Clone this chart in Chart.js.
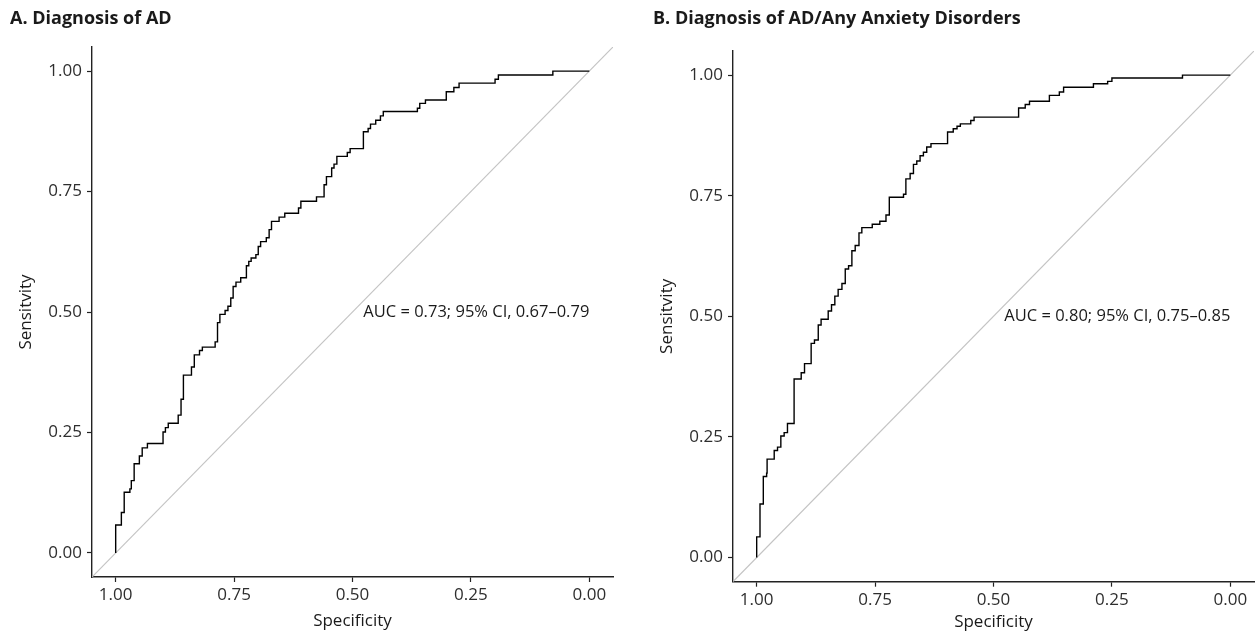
<!DOCTYPE html>
<html>
<head>
<meta charset="utf-8">
<script src="https://cdn.jsdelivr.net/npm/chart.js@4.4.0/dist/chart.umd.min.js"></script>
<style>
  html, body { margin: 0; padding: 0; background: #fff; }
  #wrapA { position: absolute; left: 0; top: 0; }
  #wrapB { position: absolute; left: 643px; top: 0; }
</style>
</head>
<body>
<div id="wrapA"><canvas id="chartA" width="625" height="634"></canvas></div>
<div id="wrapB"><canvas id="chartB" width="612" height="634"></canvas></div>
<script>
const tick_values = [1, 0.75, 0.5, 0.25, 0];
const tick_labels = ['1.00', '0.75', '0.50', '0.25', '0.00'];

// panel A: ROC steps (specificity, sensitivity)
const spec_a = [1.000, 1.000, 0.988, 0.982, 0.970, 0.967, 0.961, 0.950, 0.944, 0.933, 0.900, 0.895, 0.889, 0.868, 0.862,
  0.857, 0.840, 0.834, 0.823, 0.817, 0.790, 0.785, 0.780, 0.769, 0.763, 0.757, 0.752, 0.746, 0.736, 0.724, 0.719,
  0.714, 0.704, 0.699, 0.694, 0.682, 0.676, 0.671, 0.655, 0.643, 0.614, 0.609, 0.576, 0.560, 0.555, 0.544, 0.539,
  0.533, 0.511, 0.505, 0.477, 0.467, 0.462, 0.451, 0.441, 0.435, 0.363, 0.358, 0.346, 0.302, 0.286, 0.275, 0.199,
  0.192, 0.077, 0.000];
const sens_a = [0.000, 0.058, 0.084, 0.126, 0.133, 0.150, 0.185, 0.201, 0.218, 0.227, 0.251, 0.260, 0.269, 0.286, 0.319,
  0.369, 0.386, 0.411, 0.420, 0.427, 0.438, 0.478, 0.495, 0.503, 0.512, 0.529, 0.553, 0.562, 0.571, 0.596, 0.605,
  0.612, 0.619, 0.636, 0.646, 0.654, 0.671, 0.688, 0.697, 0.705, 0.716, 0.730, 0.739, 0.764, 0.781, 0.799, 0.807,
  0.823, 0.831, 0.839, 0.874, 0.881, 0.890, 0.898, 0.907, 0.916, 0.923, 0.933, 0.940, 0.957, 0.966, 0.975, 0.983,
  0.992, 1.000, 1.000];

// panel B
const spec_b = [1.000, 1.000, 0.993, 0.986, 0.979, 0.978, 0.963, 0.956, 0.949, 0.942, 0.935, 0.921, 0.906, 0.899, 0.885,
  0.878, 0.870, 0.864, 0.849, 0.842, 0.835, 0.828, 0.820, 0.813, 0.806, 0.799, 0.792, 0.784, 0.778, 0.756, 0.740,
  0.727, 0.720, 0.690, 0.685, 0.676, 0.669, 0.662, 0.655, 0.648, 0.641, 0.632, 0.597, 0.585, 0.577, 0.570, 0.548,
  0.541, 0.447, 0.433, 0.424, 0.382, 0.361, 0.352, 0.289, 0.259, 0.250, 0.101, 0.000];
const sens_b = [0.000, 0.043, 0.111, 0.168, 0.175, 0.204, 0.222, 0.229, 0.252, 0.259, 0.278, 0.370, 0.383, 0.402, 0.444,
  0.451, 0.482, 0.494, 0.511, 0.524, 0.542, 0.556, 0.568, 0.598, 0.605, 0.636, 0.647, 0.673, 0.684, 0.691, 0.697,
  0.710, 0.747, 0.753, 0.785, 0.796, 0.815, 0.822, 0.833, 0.840, 0.851, 0.858, 0.882, 0.889, 0.894, 0.899, 0.906,
  0.913, 0.932, 0.939, 0.946, 0.958, 0.965, 0.975, 0.982, 0.987, 0.994, 1.000, 1.000];

// reference line sens = 1 - spec across the panel limits
const chance_spec = [1.05, -0.05];
const chance_sens = [-0.05, 1.05];

const titles = ['A. Diagnosis of AD', 'B. Diagnosis of AD/Any Anxiety Disorders'];
const auc_labels = ['AUC = 0.73; 95% CI, 0.67\u20130.79', 'AUC = 0.80; 95% CI, 0.75\u20130.85'];

const FONT = '"Open Sans", "Noto Sans", sans-serif';

const aucText = {
    id: 'aucText',
    afterDatasetsDraw(chart, args, opts) {
        const {ctx, scales: {x, y}} = chart;
        ctx.save();
        ctx.font = '16.5px ' + FONT;
        ctx.fillStyle = '#1a1a1a';
        ctx.textAlign = 'right';
        ctx.textBaseline = 'middle';
        ctx.fillText(opts.text, x.getPixelForValue(opts.x), y.getPixelForValue(opts.y));
        ctx.restore();
    }
};

function toPoints(xs, ys) {
    return xs.map((v, i) => ({x: v, y: ys[i]}));
}

function makeChart(id, spec, sens, title, auc, lay) {
    const ctx = document.getElementById(id).getContext('2d');
    return new Chart(ctx, {
        type: 'line',
        data: {
            datasets: [{
                data: toPoints(spec, sens),
                borderColor: '#000',
                borderWidth: 1.4,
                pointRadius: 0,
                stepped: true,
                fill: false
            }, {
                data: toPoints(chance_spec, chance_sens),
                borderColor: '#c4c4c4',
                borderWidth: 1.2,
                pointRadius: 0,
                fill: false
            }]
        },
        options: {
            responsive: false,
            animation: false,
            layout: {padding: {left: 10, right: lay.right, top: 0, bottom: 0}},
            plugins: {
                legend: {display: false},
                tooltip: {enabled: false},
                title: {
                    display: true,
                    text: title,
                    align: 'start',
                    color: '#1a1a1a',
                    font: {family: FONT, size: 18, weight: 'bold', lineHeight: 1.2},
                    padding: {top: 8, bottom: lay.titleBottom}
                },
                aucText: {text: auc, x: 0, y: 0.5}
            },
            scales: {
                x: {
                    type: 'linear',
                    reverse: true,
                    min: -0.05,
                    max: 1.05,
                    afterBuildTicks: s => { s.ticks = tick_values.map(v => ({value: v})); },
                    afterFit: s => { s.height = lay.xHeight; },
                    ticks: {
                        callback: v => tick_labels[tick_values.indexOf(v)],
                        font: {family: FONT, size: 17},
                        color: '#2e2e2e',
                        padding: 3,
                        maxRotation: 0,
                        autoSkip: false
                    },
                    grid: {drawOnChartArea: false, drawTicks: true, tickLength: 5, tickColor: '#222', tickWidth: 1.2},
                    border: {display: true, color: '#222', width: 1.4},
                    title: {
                        display: true,
                        text: 'Specificity',
                        color: '#1a1a1a',
                        font: {family: FONT, size: 17, lineHeight: 1.2},
                        padding: {top: 0, bottom: lay.xTitleBottom}
                    }
                },
                y: {
                    type: 'linear',
                    min: -0.05,
                    max: 1.05,
                    afterBuildTicks: s => { s.ticks = tick_values.map(v => ({value: v})); },
                    afterFit: s => { s.width = lay.yWidth; },
                    ticks: {
                        callback: v => tick_labels[tick_values.indexOf(v)],
                        font: {family: FONT, size: 17},
                        color: '#2e2e2e',
                        padding: 5,
                        autoSkip: false
                    },
                    grid: {drawOnChartArea: false, drawTicks: true, tickLength: 5, tickColor: '#222', tickWidth: 1.2},
                    border: {display: true, color: '#222', width: 1.4},
                    title: {
                        display: true,
                        text: 'Sensitvity',
                        color: '#1a1a1a',
                        font: {family: FONT, size: 17, lineHeight: 1.2},
                        padding: {top: lay.yTitleTop, bottom: 0}
                    }
                }
            }
        },
        plugins: [aucText]
    });
}

const chartA = makeChart('chartA', spec_a, sens_a, titles[0], auc_labels[0],
    {right: 12, titleBottom: 17.4, xHeight: 57, xTitleBottom: 2.8, yWidth: 82, yTitleTop: 5.8});
const chartB = makeChart('chartB', spec_b, sens_b, titles[1], auc_labels[1],
    {right: 1, titleBottom: 21.4, xHeight: 52.3, xTitleBottom: 1.8, yWidth: 80, yTitleTop: 3.5});
</script>
</body>
</html>
